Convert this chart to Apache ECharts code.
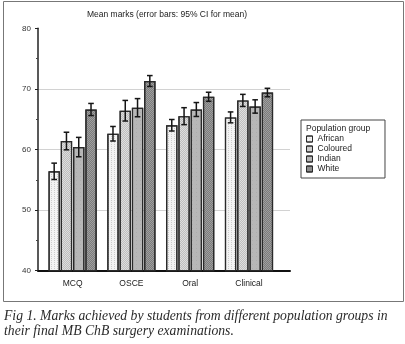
<!DOCTYPE html>
<html>
<head>
<meta charset="utf-8">
<script src="https://cdn.jsdelivr.net/npm/echarts@6/dist/echarts.min.js"></script>
<style>
html,body{margin:0;padding:0;background:#fff;}
#c{width:405px;height:344px;}
</style>
</head>
<body>
<div id="c"></div>
<script>
var categories = ['MCQ', 'OSCE', 'Oral', 'Clinical'];
var groups = ['African', 'Coloured', 'Indian', 'White'];
var african = [56.4, 62.6, 64.0, 65.3];
var coloured = [61.4, 66.4, 65.5, 68.1];
var indian = [60.4, 66.9, 66.6, 67.1];
var white = [66.6, 71.3, 68.7, 69.4];
var africanCI = [1.35, 1.2, 0.95, 0.9];
var colouredCI = [1.45, 1.7, 1.4, 1.0];
var indianCI = [1.6, 1.5, 1.15, 1.1];
var whiteCI = [1.0, 0.9, 0.75, 0.7];
var yTicks = [40, 50, 60, 70, 80];

var means = [african, coloured, indian, white];
var cis = [africanCI, colouredCI, indianCI, whiteCI];

var fills = ['#f3f3f3', '#dedede', '#b7b7b7', '#9f9f9f'];
var decals = [
  {symbol: 'rect', symbolSize: 1, dashArrayX: [1, 2], dashArrayY: [1, 1], color: 'rgba(0,0,0,0.16)'},
  {symbol: 'rect', symbolSize: 1, dashArrayX: [[1, 1], [0, 1, 1, 0]], dashArrayY: [1, 0], color: 'rgba(0,0,0,0.14)'},
  {symbol: 'rect', symbolSize: 1, dashArrayX: [1, 3], dashArrayY: [1, 3], color: 'rgba(0,0,0,0.05)'},
  {symbol: 'rect', symbolSize: 1, dashArrayX: [[1, 1], [0, 1, 1, 0]], dashArrayY: [1, 0], color: 'rgba(0,0,0,0.22)'}
];

var CAT_GAP = 0.18, BAR_GAP = 0.08;

var errData = [];
for (var g = 0; g < groups.length; g++) {
  for (var i = 0; i < categories.length; i++) {
    errData.push([i, g, means[g][i] - cis[g][i], means[g][i] + cis[g][i]]);
  }
}

var series = groups.map(function (name, g) {
  return {
    name: name,
    type: 'bar',
    xAxisIndex: 1,
    yAxisIndex: 1,
    barCategoryGap: (CAT_GAP * 100) + '%',
    barGap: (BAR_GAP * 100) + '%',
    data: means[g],
    itemStyle: {color: fills[g], borderColor: '#2a2a2a', borderWidth: 1.2, decal: decals[g]},
    emphasis: {disabled: true},
    z: 2
  };
});

series.push({
  type: 'custom',
  xAxisIndex: 1,
  yAxisIndex: 1,
  data: errData,
  encode: {x: 0, y: [2, 3]},
  z: 5,
  silent: true,
  renderItem: function (params, api) {
    var cat = api.value(0), g = api.value(1);
    var lo = api.value(2), hi = api.value(3);
    var bandW = api.size([1, 0])[0];
    var n = groups.length;
    var total = bandW * (1 - CAT_GAP);
    var bw = total / (n + (n - 1) * BAR_GAP);
    var off = -total / 2 + g * bw * (1 + BAR_GAP) + bw / 2;
    var pLo = api.coord([cat, lo]);
    var pHi = api.coord([cat, hi]);
    var x = pLo[0] + off;
    var cap = 2.8;
    var st = {stroke: '#151515', lineWidth: 1.5, fill: null};
    return {
      type: 'group',
      children: [
        {type: 'line', shape: {x1: x, y1: pLo[1], x2: x, y2: pHi[1]}, style: st},
        {type: 'line', shape: {x1: x - cap, y1: pLo[1], x2: x + cap, y2: pLo[1]}, style: st},
        {type: 'line', shape: {x1: x - cap, y1: pHi[1], x2: x + cap, y2: pHi[1]}, style: st}
      ]
    };
  }
});

var chart = echarts.init(document.getElementById('c'), null, {renderer: 'canvas'});
chart.setOption({
  animation: false,
  backgroundColor: '#fff',
  textStyle: {fontFamily: 'Liberation Sans, Arial, sans-serif'},
  title: [
    {text: 'Mean marks (error bars: 95% CI for mean)', left: 162, top: 5, padding: 5, textAlign: 'center',
     textStyle: {fontSize: 8.5, fontWeight: 'normal', color: '#222'}},
    {text: 'Population group', left: 301, top: 119, padding: 5,
     textStyle: {fontSize: 8.5, fontWeight: 'normal', color: '#222'}},
    {text: 'Fig 1. Marks achieved by students from different population groups in\ntheir final MB ChB surgery examinations.',
     left: 0, top: 304.5, padding: [5, 5, 5, 4],
     textStyle: {fontSize: 13.7, fontStyle: 'italic', fontWeight: 'normal', fontFamily: 'Liberation Serif, serif',
                 color: '#2a2a2a', lineHeight: 14.5}}
  ],
  graphic: [
    {type: 'rect', shape: {x: 3.5, y: 1.5, width: 400, height: 300}, style: {fill: null, stroke: '#777', lineWidth: 1}, silent: true, z: -1}
  ],
  legend: {
    data: groups,
    orient: 'vertical',
    left: 301,
    top: 120,
    itemWidth: 6,
    itemHeight: 6,
    itemGap: 0,
    itemTextGap: 7,
    padding: [14, 33, 4, 5],
    borderColor: '#444',
    borderWidth: 1,
    icon: 'rect',
    itemStyle: {borderColor: '#2a2a2a', borderWidth: 1},
    textStyle: {fontSize: 8.5, color: '#222', lineHeight: 10},
    selectedMode: false
  },
  grid: [
    {left: 38, top: 28.3, width: 252, height: 242.4},
    {left: 43.2, top: 28.3, width: 235.2, height: 242.4}
  ],
  xAxis: [
    {type: 'value', gridIndex: 0, min: 0, max: 1, axisLabel: {show: false}, axisTick: {show: false},
     splitLine: {show: false}, axisLine: {show: true, lineStyle: {color: '#111', width: 2}}},
    {type: 'category', gridIndex: 1, data: categories, axisLine: {show: false}, axisTick: {show: false},
     axisLabel: {fontSize: 8.5, color: '#222', margin: 8}}
  ],
  yAxis: [
    {type: 'value', gridIndex: 0, min: yTicks[0], max: yTicks[yTicks.length - 1], interval: 10,
     axisLine: {show: true, lineStyle: {color: '#222', width: 1.5}},
     axisTick: {show: true, inside: false, length: 3, lineStyle: {color: '#222'}},
     minorTick: {show: true, splitNumber: 2, length: 2, lineStyle: {color: '#444'}},
     axisLabel: {fontSize: 8, color: '#333', margin: 7},
     splitLine: {show: true, showMinLine: false, showMaxLine: false, lineStyle: {color: '#d2d2d2', width: 1}}},
    {type: 'value', gridIndex: 1, min: yTicks[0], max: yTicks[yTicks.length - 1], interval: 10, show: false,
     splitLine: {show: false}}
  ],
  series: series
});
</script>
</body>
</html>
